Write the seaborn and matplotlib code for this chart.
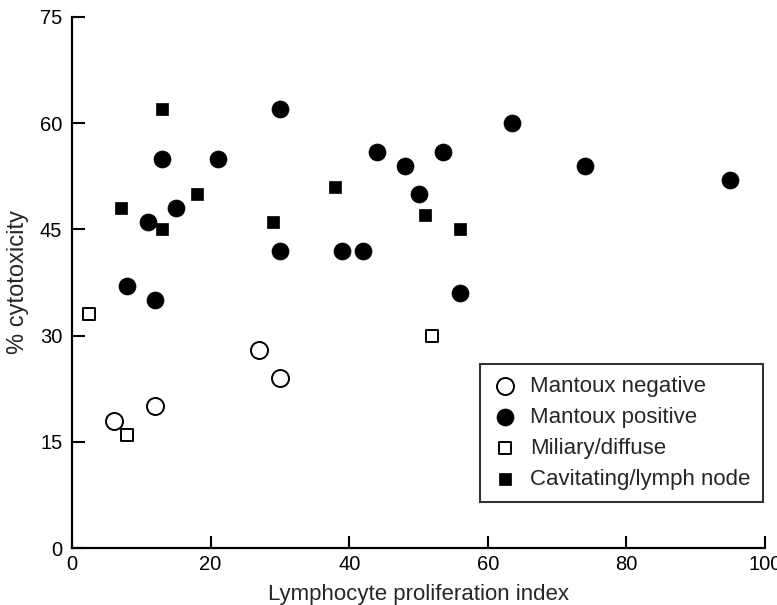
import matplotlib
matplotlib.use("Agg")
import matplotlib.pyplot as plt
import seaborn as sns
import pandas as pd

# Data
neg_x = [6, 12, 27, 30]
neg_y = [18, 20, 28, 24]
pos_x = [30, 13, 21, 15, 11, 30, 8, 12, 44, 53.5, 48, 50, 63.5, 39, 42, 56, 74, 95]
pos_y = [62, 55, 55, 48, 46, 42, 37, 35, 56, 56, 54, 50, 60, 42, 42, 36, 54, 52]
mil_x = [2.5, 8, 52]
mil_y = [33, 16, 30]
cav_x = [13, 7, 13, 18, 29, 38, 51, 56]
cav_y = [62, 48, 45, 50, 46, 51, 47, 45]

groups = ["Mantoux negative", "Mantoux positive", "Miliary/diffuse", "Cavitating/lymph node"]
x_ticks = [0, 20, 40, 60, 80, 100]
y_ticks = [0, 15, 30, 45, 60, 75]

df = pd.concat([
    pd.DataFrame({"x": neg_x, "y": neg_y, "group": groups[0]}),
    pd.DataFrame({"x": pos_x, "y": pos_y, "group": groups[1]}),
    pd.DataFrame({"x": mil_x, "y": mil_y, "group": groups[2]}),
    pd.DataFrame({"x": cav_x, "y": cav_y, "group": groups[3]}),
], ignore_index=True)

sns.set_style("ticks")
plt.rcParams["font.family"] = ["Liberation Sans", "DejaVu Sans"]

fig = plt.figure(figsize=(7.77, 6.05), dpi=100)
ax = fig.add_axes([72/777, 1-548/605, 693/777, 531/605])

styles = {
    groups[0]: dict(marker="o", s=150, color="white", edgecolor="black", linewidth=1.4),
    groups[1]: dict(marker="o", s=150, color="black", edgecolor="black", linewidth=0.5),
    groups[2]: dict(marker="s", s=85, color="white", edgecolor="black", linewidth=1.4),
    groups[3]: dict(marker="s", s=85, color="black", edgecolor="black", linewidth=0.5),
}
for g in groups:
    sub = df[df["group"] == g]
    sns.scatterplot(data=sub, x="x", y="y", ax=ax, label=g, zorder=3, **styles[g])

ax.set_xlim(0, 100)
ax.set_ylim(0, 75)
ax.set_xticks(x_ticks)
ax.set_yticks(y_ticks)
ax.tick_params(direction="in", length=9, width=1.5, labelsize=14.5, pad=7, colors="black")
ax.tick_params(axis="x", pad=5)
for side in ["top", "right"]:
    ax.spines[side].set_visible(False)
for side in ["left", "bottom"]:
    ax.spines[side].set_linewidth(1.6)
    ax.spines[side].set_color("black")

ax.set_xlabel("Lymphocyte proliferation index", fontsize=16)
ax.set_ylabel("% cytotoxicity", fontsize=17)
ax.xaxis.set_label_coords(0.5, -0.067)
ax.yaxis.set_label_coords(-0.062, 0.5)

leg = ax.legend(loc="upper right", bbox_to_anchor=(0.997, 0.3465), borderaxespad=0,
                frameon=True, fancybox=False, fontsize=16, handletextpad=0.6,
                borderpad=0.55, labelspacing=0.45, handlelength=1.1, markerscale=1.0)
leg.get_frame().set_edgecolor("black")
leg.get_frame().set_linewidth(1.5)

fig.savefig("out.png", dpi=100)
